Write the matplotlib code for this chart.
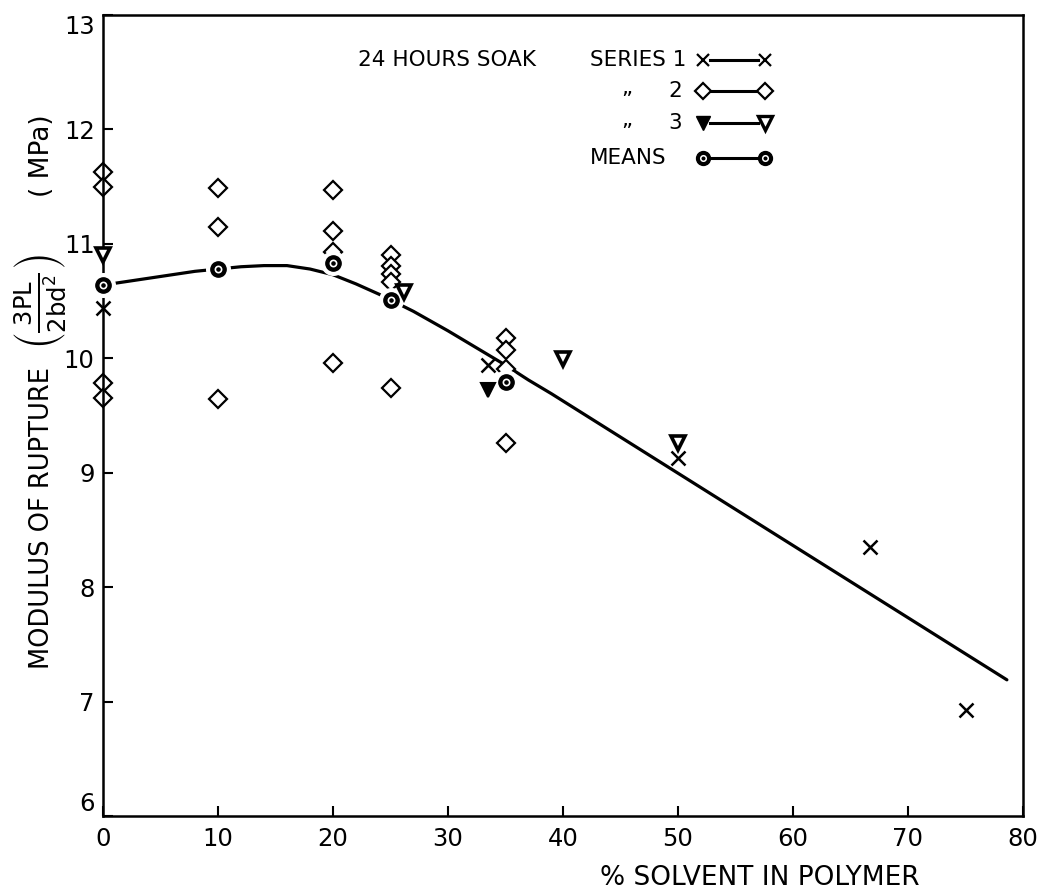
import matplotlib
matplotlib.use("Agg")
import matplotlib.pyplot as plt
from matplotlib import font_manager

# ---- data -------------------------------------------------------------
series1_x = [0, 33.5, 50, 66.7, 75]
series1_y = [10.44, 9.94, 9.13, 8.35, 6.93]

series2_x = [0, 0, 0, 0, 10, 10, 10, 20, 20, 20, 20,
             25, 25, 25, 25, 25, 35, 35, 35, 35]
series2_y = [11.63, 11.50, 9.78, 9.65, 11.49, 11.15, 9.64,
             11.47, 11.11, 10.93, 9.96,
             10.90, 10.81, 10.74, 10.67, 9.74,
             10.18, 10.07, 9.91, 9.26]

series3_open_x = [0, 26.2, 40, 50]
series3_open_y = [10.90, 10.58, 9.99, 9.26]
series3_solid_x = [33.5]
series3_solid_y = [9.72]

means_x = [0, 10, 20, 25, 35]
means_y = [10.64, 10.78, 10.83, 10.51, 9.79]

curve_x = [0, 4, 8, 10, 12, 14, 16, 18, 20, 22, 24, 25, 27, 30, 33,
           35, 37, 39, 78.6]
curve_y = [10.64, 10.70, 10.76, 10.78, 10.80, 10.81, 10.81, 10.78, 10.73,
           10.65, 10.56, 10.51, 10.41, 10.24, 10.06, 9.94, 9.81, 9.69, 7.19]

x_ticks = [0, 10, 20, 30, 40, 50, 60, 70, 80]
y_ticks = [6, 7, 8, 9, 10, 11, 12, 13]

# ---- fonts ------------------------------------------------------------
installed = {f.name for f in font_manager.fontManager.ttflist}
if "Liberation Sans Narrow" in installed:
    NARROW, NSIZE, TSIZE = "Liberation Sans Narrow", 18, 20
else:
    NARROW, NSIZE, TSIZE = "DejaVu Sans", 15.5, 17.5
WIDE, WSIZE = "DejaVu Sans", 19

plt.rcParams["font.family"] = [WIDE]
plt.rcParams["mathtext.fontset"] = "dejavusans"

fig = plt.figure(figsize=(10.49, 8.94), dpi=100, facecolor="white")
ax = fig.add_axes([103 / 1049, 78 / 894, 920 / 1049, 801 / 894])
ax.set_xlim(0, 80)
ax.set_ylim(6, 13)

for side in ("left", "bottom", "right", "top"):
    ax.spines[side].set_linewidth(1.8)
    ax.spines[side].set_color("black")

ax.set_xticks(x_ticks)
ax.set_yticks(y_ticks)
ax.tick_params(direction="in", length=7, width=1.5, top=False, right=False,
               labelsize=TSIZE)
ax.tick_params(axis="x", pad=8)
ax.tick_params(axis="y", pad=6)
for lab in ax.get_xticklabels() + ax.get_yticklabels():
    lab.set_fontfamily(NARROW)
ax.get_yticklabels()[0].set_verticalalignment("bottom")
ax.get_yticklabels()[-1].set_verticalalignment("top")

# ---- fitted mean curve ---------------------------------------------------
ax.plot(curve_x, curve_y, color="black", lw=2.3, solid_capstyle="round",
        zorder=2, clip_on=False)

# white halos cut the curve around the mean markers
ax.plot(means_x, means_y, ls="none", marker="o", ms=17, mfc="white",
        mec="white", zorder=3, clip_on=False)

# ---- data markers --------------------------------------------------------
ax.plot(series2_x, series2_y, ls="none", marker="D", ms=8.8, mfc="white",
        mec="black", mew=1.6, zorder=2.5, clip_on=False)
ax.plot(series1_x, series1_y, ls="none", marker="x", ms=10, mec="black",
        mew=1.8, zorder=4, clip_on=False)
ax.plot(series3_open_x, series3_open_y, ls="none", marker="v", ms=10,
        mfc="white", mec="black", mew=2.6, zorder=4, clip_on=False)
ax.plot(series3_solid_x, series3_solid_y, ls="none", marker="v", ms=10,
        mfc="black", mec="black", mew=1.5, zorder=4, clip_on=False)
ax.plot(means_x, means_y, ls="none", marker="o", ms=11, mfc="black",
        mec="black", zorder=5, clip_on=False)
ax.plot(means_x, means_y, ls="none", marker="o", ms=4.5, mfc="none",
        mec="white", mew=1.2, zorder=6, clip_on=False)

# ---- annotations ---------------------------------------------------------
tkw = dict(transform=ax.transAxes, fontfamily=NARROW, fontsize=NSIZE,
           va="center", color="black")
ax.text(0.2772, 0.9438, "24 HOURS SOAK", ha="left", **tkw)

rows_y = [0.9438, 0.9051, 0.8652, 0.8215]
ax.text(0.5293, rows_y[0], "SERIES 1", ha="left", **tkw)
ax.text(0.5696, rows_y[1] + 0.004, "\u201e", ha="center", **tkw)
ax.text(0.6217, rows_y[1], "2", ha="center", **tkw)
ax.text(0.5696, rows_y[2] + 0.004, "\u201e", ha="center", **tkw)
ax.text(0.6217, rows_y[2], "3", ha="center", **tkw)
ax.text(0.5293, rows_y[3], "MEANS", ha="left", **tkw)

lx0, lx1 = 0.6522, 0.7196
for ry in rows_y:
    ax.plot([lx0 + 0.008, lx1 - 0.008], [ry, ry], color="black", lw=2.2,
            transform=ax.transAxes, clip_on=False, zorder=3)
# row 1: crosses
ax.plot([lx0, lx1], [rows_y[0]] * 2, ls="none", marker="x", ms=9,
        mec="black", mew=1.6, transform=ax.transAxes, clip_on=False)
# row 2: diamonds
ax.plot([lx0, lx1], [rows_y[1]] * 2, ls="none", marker="D", ms=8.2,
        mfc="white", mec="black", mew=1.6, transform=ax.transAxes,
        clip_on=False, zorder=4)
# row 3: solid and open triangles
ax.plot([lx0], [rows_y[2]], ls="none", marker="v", ms=9.5, mfc="black",
        mec="black", transform=ax.transAxes, clip_on=False, zorder=4)
ax.plot([lx1], [rows_y[2]], ls="none", marker="v", ms=9.5, mfc="white",
        mec="black", mew=2.4, transform=ax.transAxes, clip_on=False, zorder=4)
# row 4: means
ax.plot([lx0, lx1], [rows_y[3]] * 2, ls="none", marker="o", ms=10,
        mfc="black", mec="black", transform=ax.transAxes, clip_on=False,
        zorder=4)
ax.plot([lx0, lx1], [rows_y[3]] * 2, ls="none", marker="o", ms=4,
        mfc="none", mec="white", mew=1.1, transform=ax.transAxes,
        clip_on=False, zorder=5)

# ---- axis titles ---------------------------------------------------------
fig.text(760 / 1049, 1 - 878 / 894, "% SOLVENT IN POLYMER", ha="center",
         va="center", fontfamily=WIDE, fontsize=WSIZE)

# vertical axis title, set in three pieces along the left margin
lbl = dict(rotation=90, ha="center", va="center", fontfamily=WIDE)
fig.text(42 / 1049, 1 - 518 / 894, "MODULUS OF RUPTURE", fontsize=18.5,
         **lbl)
fig.text(41 / 1049, 1 - 302 / 894,
         r"$\left(\frac{\mathregular{3PL}}{\mathregular{2bd^2}}\right)$",
         fontsize=25, **lbl)
fig.text(42 / 1049, 1 - 156 / 894, "( MPa)", fontsize=WSIZE, **lbl)

fig.savefig("out.png", dpi=100, facecolor="white")
